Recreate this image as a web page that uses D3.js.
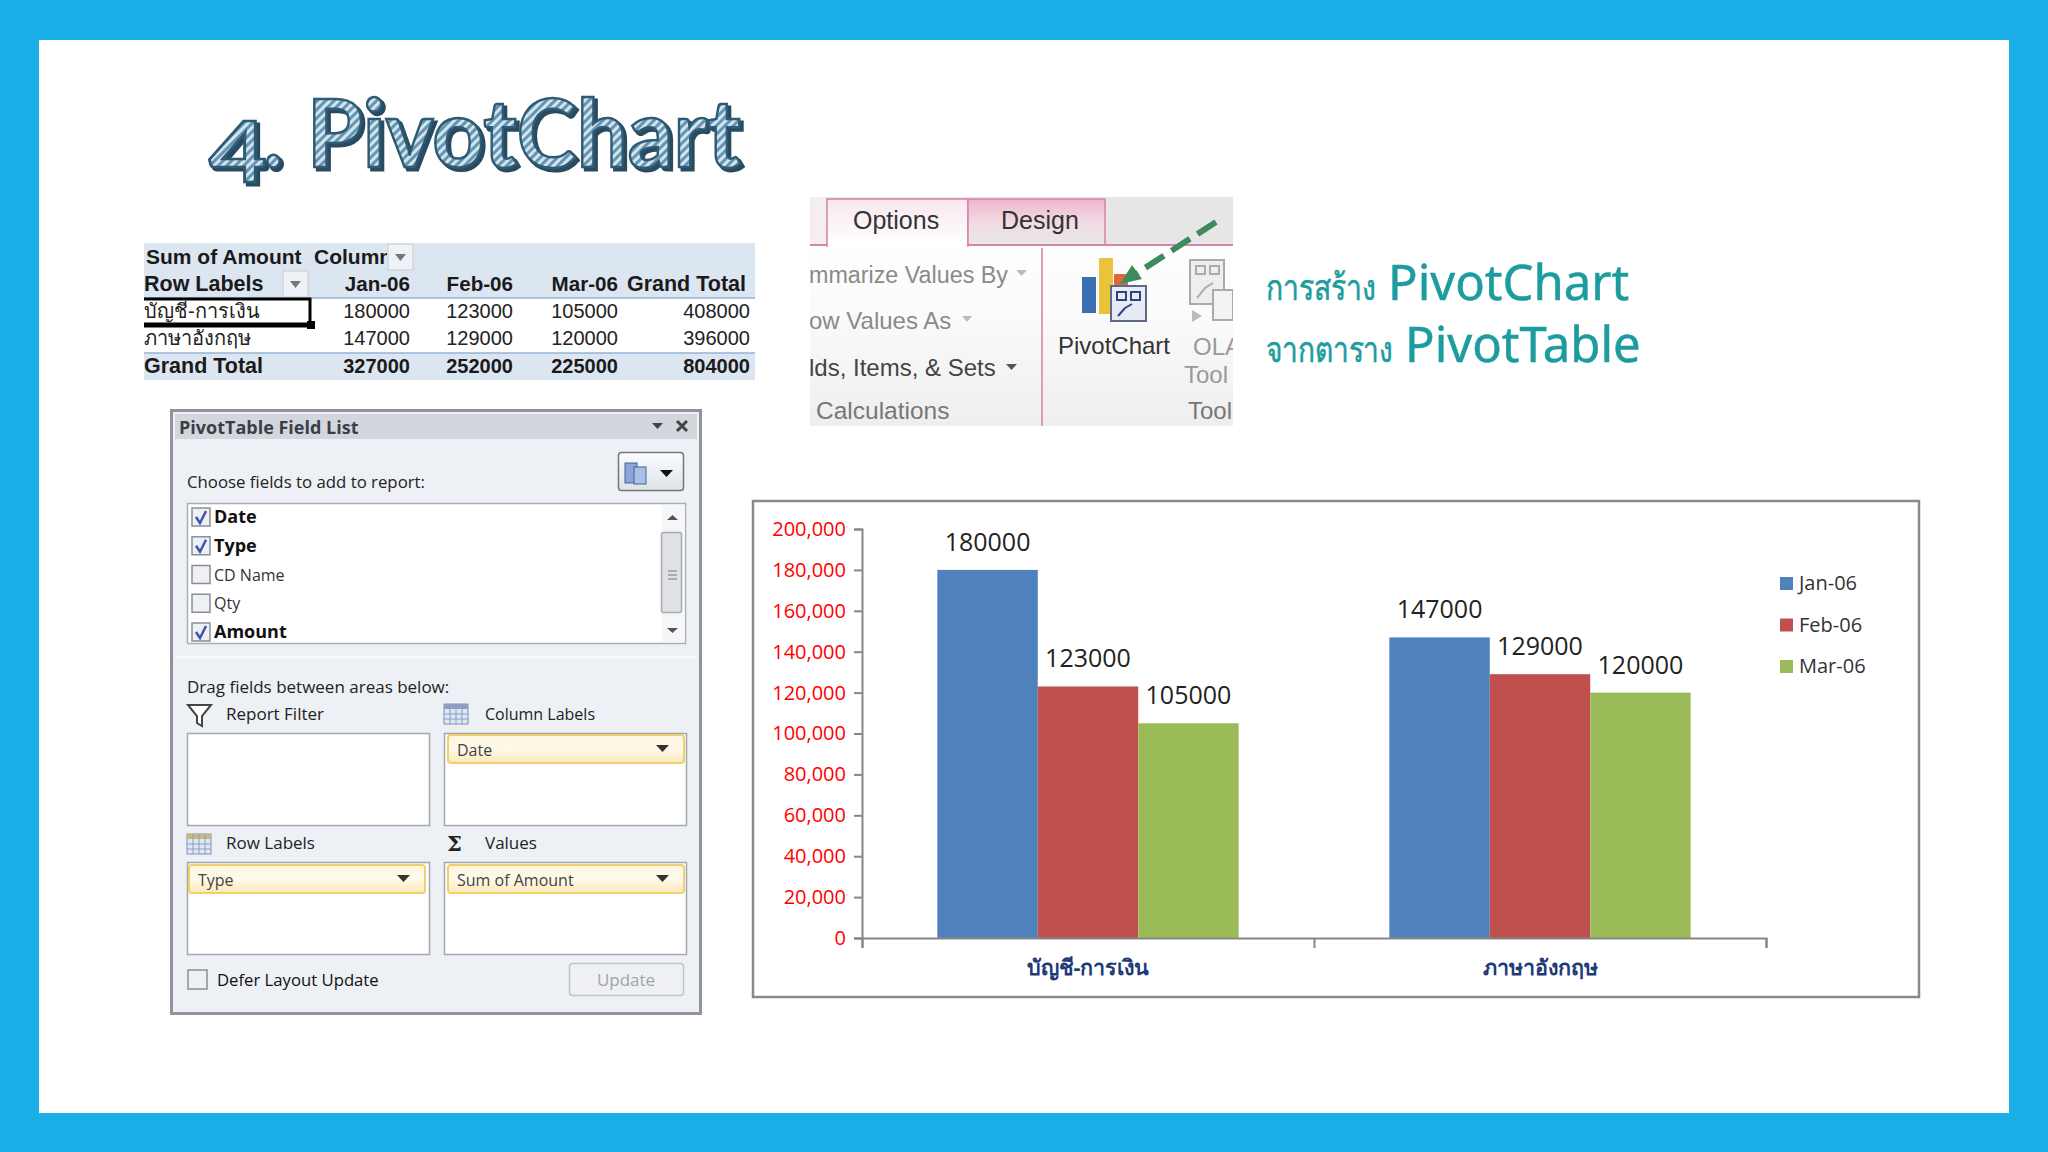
<!DOCTYPE html>
<html>
<head>
<meta charset="utf-8">
<script src="https://cdn.jsdelivr.net/npm/d3@7"></script>
<style>
  html, body { margin: 0; padding: 0; background: #1aafe6; }
  svg { display: block; }
  text { font-family: "Open Sans", sans-serif; }
</style>
</head>
<body>
<svg id="page" width="2048" height="1152"></svg>
<script>
// chart values
const categories = ['บัญชี-การเงิน', 'ภาษาอังกฤษ'];
const months = ['Jan-06', 'Feb-06', 'Mar-06'];
const jan06 = [180000, 147000];
const feb06 = [123000, 129000];
const mar06 = [105000, 120000];
const yTicks = [0, 20000, 40000, 60000, 80000, 100000, 120000, 140000, 160000, 180000, 200000];
const barColors = ['#4f81bd', '#c0504d', '#9bbb59'];

// pivot table values
const grandTotalRow = [327000, 252000, 225000];
const rowTotals = [408000, 396000];
const overallTotal = 804000;

// field list labels
const fieldNames = ['Date', 'Type', 'CD Name', 'Qty', 'Amount'];
const fieldChecked = [true, true, false, false, true];

const svg = d3.select('#page');

const txt = (g, x, y, str, o = {}) => g.append('text')
  .attr('x', x).attr('y', y)
  .attr('text-anchor', o.anchor || 'start')
  .attr('textLength', o.len || null)
  .attr('lengthAdjust', o.len ? 'spacingAndGlyphs' : null)
  .style('font-family', o.font || null)
  .style('font-size', (o.size || 18) + 'px')
  .style('font-weight', o.weight || 'normal')
  .style('fill', o.fill || '#222')
  .text(str);

const box = (g, x, y, w, h, fill, stroke, sw = 1, r = 0) => g.append('rect')
  .attr('x', x).attr('y', y).attr('width', w).attr('height', h)
  .attr('rx', r).attr('fill', fill)
  .attr('stroke', stroke || 'none').attr('stroke-width', sw);

// slide background
box(svg, 39, 40, 1970, 1073, '#fff');

const defs = svg.append('defs');

const hatch = defs.append('pattern').attr('id', 'hatch')
  .attr('patternUnits', 'userSpaceOnUse')
  .attr('width', 6).attr('height', 6)
  .attr('patternTransform', 'rotate(45)');
hatch.append('rect').attr('width', 6).attr('height', 6).attr('fill', '#d3e4ee');
hatch.append('rect').attr('width', 3).attr('height', 6).attr('fill', '#6496b2');

const addGrad = (id, stops) => {
  const gr = defs.append('linearGradient').attr('id', id)
    .attr('x1', 0).attr('y1', 0).attr('x2', 0).attr('y2', 1);
  stops.forEach((c, i) => gr.append('stop')
    .attr('offset', i / (stops.length - 1)).attr('stop-color', c));
};
addGrad('pill', ['#fdf6df', '#fff9ea', '#fbe9b8']);
addGrad('ribbon', ['#ffffff', '#fbfbfb', '#eeeeee']);
addGrad('tabOn', ['#f8e6ef', '#ffffff']);
addGrad('tabPink', ['#eeb4cc', '#f1dbe4', '#e8e8e8']);
addGrad('btn', ['#fbfcfd', '#dfe3e9']);

defs.append('clipPath').attr('id', 'clipRibbon').append('rect')
  .attr('x', 810).attr('y', 197).attr('width', 423).attr('height', 229);
defs.append('clipPath').attr('id', 'clipColumn').append('rect')
  .attr('x', 144).attr('y', 243).attr('width', 243).attr('height', 30);

// title: the 4 hangs below the baseline like an old style figure
const titleStyle = { font: 'Lato', size: 94, weight: 'bold' };
const titleParts = [
  { s: '4', x: 209, y: 182, size: 84, len: 58 },
  { s: '.', x: 264, y: 167, size: 84, len: 19 },
  { s: 'PivotChart', x: 307, y: 167, size: 94, len: 434 }
];
titleParts.forEach(p => {
  txt(svg, p.x + 3, p.y + 3, p.s, { ...titleStyle, size: p.size, len: p.len, fill: '#2a4a60' })
    .attr('stroke', '#2a4a60').attr('stroke-width', 3);
  txt(svg, p.x, p.y, p.s, { ...titleStyle, size: p.size, len: p.len, fill: 'url(#hatch)' })
    .attr('stroke', '#2f5a74').attr('stroke-width', 2.5);
});

// pivot table
const tbl = svg.append('g').style('font-family', null);
const tf = { font: '"Liberation Sans"', size: 20 };
const tb = { ...tf, weight: 'bold', fill: '#1a1a1a' };
const th = { ...tb, size: 21.5 };
const rowY = [264, 291, 318, 345, 373];
const colRight = [410, 513, 618, 750];

box(tbl, 144, 243, 611, 55, '#dce6f1');
box(tbl, 144, 353, 611, 27, '#dce6f1');
tbl.append('line').attr('x1', 144).attr('x2', 755).attr('y1', 298).attr('y2', 298).attr('stroke', '#95b3d7').attr('stroke-width', 1.5);
tbl.append('line').attr('x1', 144).attr('x2', 755).attr('y1', 353).attr('y2', 353).attr('stroke', '#95b3d7').attr('stroke-width', 1.5);

txt(tbl, 146, rowY[0], 'Sum of Amount', { ...th, size: 21 });
txt(tbl, 314, rowY[0], 'Column', { ...th, size: 21 }).attr('clip-path', 'url(#clipColumn)');
txt(tbl, 144, rowY[1], 'Row Labels', th);
months.concat(['Grand Total']).forEach((m, i) =>
  txt(tbl, i === 3 ? 746 : colRight[i], rowY[1], m, { ...th, size: i === 3 ? 21.5 : 20.6, anchor: 'end' }));

categories.forEach((c, r) => {
  txt(tbl, 144, rowY[2 + r], c, { ...tf, fill: '#222' });
  [jan06[r], feb06[r], mar06[r], rowTotals[r]].forEach((v, i) =>
    txt(tbl, colRight[i], rowY[2 + r], v, { ...tf, anchor: 'end', fill: '#222' }));
});
txt(tbl, 144, rowY[4], 'Grand Total', th);
grandTotalRow.concat([overallTotal]).forEach((v, i) =>
  txt(tbl, colRight[i], rowY[4], v, { ...tb, anchor: 'end' }));

// filter buttons on the table
const filterBtn = (x, y) => {
  box(tbl, x, y, 25, 26, '#eef1f6', '#c8ccd2');
  tbl.append('path').attr('d', `M${x + 7},${y + 10}h11l-5.5,7z`).attr('fill', '#777');
};
filterBtn(388, 244);
filterBtn(283, 271);

// selected cell
tbl.append('path').attr('d', 'M144,299H310V325H144').attr('fill', 'none').attr('stroke', '#000').attr('stroke-width', 3);
tbl.append('path').attr('d', 'M144,325H310').attr('stroke', '#000').attr('stroke-width', 5);
box(tbl, 307, 321, 8, 8, '#000');

// field list panel
const fl = svg.append('g');
box(fl, 171.5, 410.5, 529, 603, '#edf0f5', '#8f9499', 3);
box(fl, 175, 414, 522, 25, '#d3d7dd');
txt(fl, 179, 434, 'PivotTable Field List', { size: 18, weight: 'bold', fill: '#3a3f47' });
fl.append('path').attr('d', 'M652,423h11l-5.5,6z').attr('fill', '#444');
fl.append('path').attr('d', 'M677,421l10,10M687,421l-10,10').attr('stroke', '#444').attr('stroke-width', 3);

txt(fl, 187, 488, 'Choose fields to add to report:', { size: 16.8 });
box(fl, 618.5, 452.5, 65, 38, 'url(#btn)', '#777', 1.5, 3);
box(fl, 625, 463, 12, 20, '#8aa7d6', '#44619a');
box(fl, 634, 467, 12, 17, '#a9c1e6', '#44619a');
fl.append('path').attr('d', 'M660,470h13l-6.5,7z').attr('fill', '#111');

box(fl, 187.5, 503.5, 498, 140, '#fff', '#abadb3', 1.5);
const rowScale = d3.scalePoint().domain(fieldNames).range([517, 632]);
fieldNames.forEach((f, i) => {
  const y = rowScale(f);
  box(fl, 192, y - 9, 18, 18, '#eef0f3', '#8a8f96', 1.5);
  if (fieldChecked[i]) {
    fl.append('path').attr('d', `M196,${y}l4,6l6,-12`).attr('fill', 'none').attr('stroke', '#3f56b0').attr('stroke-width', 2.5);
  }
  txt(fl, 214, y + 6, f, { size: fieldChecked[i] ? 18 : 16, weight: fieldChecked[i] ? 'bold' : 'normal', fill: fieldChecked[i] ? '#111' : '#333' });
});
// scroll bar
box(fl, 662, 505, 23, 137, '#f5f6f8');
box(fl, 661.5, 532.5, 20, 80, '#dfe1e4', '#a8acb2', 1.5, 2);
fl.append('path').attr('d', 'M668,571h9M668,575h9M668,579h9').attr('stroke', '#777');
fl.append('path').attr('d', 'M667,520h11l-5.5,-5z M667,628h11l-5.5,5z').attr('fill', '#555');

box(fl, 175, 656, 522, 3, '#f8f9fb');
txt(fl, 187, 693, 'Drag fields between areas below:', { size: 17 });

// the four drop areas
const leftX = 187, rightX = 444, areaW = 242;
const areaRowTop = [733, 862];
[[leftX, 0], [rightX, 0], [leftX, 1], [rightX, 1]].forEach(([x, r]) =>
  box(fl, x + 0.5, areaRowTop[r] + 0.5, areaW, 92, '#fff', '#a4a8ae', 1.5));

const pill = (x, y, label) => {
  box(fl, x, y, 236, 28, 'url(#pill)', '#f0cf6c', 2, 3);
  txt(fl, x + 9, y + 21, label, { size: 16, fill: '#444' });
  fl.append('path').attr('d', `M${x + 208},${y + 10}h13l-6.5,7z`).attr('fill', '#333');
};
pill(448, 735, 'Date');
pill(189, 865, 'Type');
pill(448, 865, 'Sum of Amount');

// small header glyphs of the drop areas
const grid = (x, y, colorA) => {
  box(fl, x, y, 24, 20, '#dfe6f4', '#7f8fb0');
  box(fl, x, y, 24, 5, colorA);
  fl.append('path').attr('d', `M${x + 6},${y}v20M${x + 12},${y}v20M${x + 18},${y}v20M${x},${y + 10}h24M${x},${y + 15}h24`)
    .attr('stroke', '#8d9dc4').attr('stroke-width', 1);
};
fl.append('path').attr('d', 'M188,705h23l-9,11v10l-5,-3v-7z').attr('fill', '#fff').attr('stroke', '#444').attr('stroke-width', 2);
grid(444, 704, '#8d9dc4');
grid(187, 834, '#c9b878');
txt(fl, 447, 851, 'Σ', { size: 21, weight: 'bold', font: '"DejaVu Serif"', fill: '#222' });

const headY = [720, 849];
txt(fl, 226, headY[0], 'Report Filter', { size: 17 });
txt(fl, 485, headY[0], 'Column Labels', { size: 16 });
txt(fl, 226, headY[1], 'Row Labels', { size: 17 });
txt(fl, 485, headY[1], 'Values', { size: 17 });

box(fl, 188, 970, 19, 19, '#eef0f3', '#8a8f96', 1.5);
txt(fl, 217, 986, 'Defer Layout Update', { size: 16.7, fill: '#111' });
box(fl, 569.5, 963.5, 114, 32, '#eef0f4', '#bfc3c9', 1.5, 3);
txt(fl, 626, 986, 'Update', { size: 17, anchor: 'middle', fill: '#a0a4aa' });

// ribbon picture
const rb = svg.append('g').attr('clip-path', 'url(#clipRibbon)');
box(rb, 810, 197, 423, 229, 'url(#ribbon)');
box(rb, 810, 197, 423, 48, '#e6e6e6');
box(rb, 810, 197, 16, 48, '#f4eef1');
box(rb, 827, 199, 141, 47, 'url(#tabOn)', '#d583a6', 1.5);
box(rb, 968, 199, 137, 46, 'url(#tabPink)', '#d583a6', 1.5);
rb.append('path').attr('d', 'M810,245H827M968,245H1233').attr('stroke', '#d583a6').attr('stroke-width', 2);
box(rb, 828, 240, 139, 8, '#ffffff');
rb.append('line').attr('x1', 1042).attr('x2', 1042).attr('y1', 248).attr('y2', 426).attr('stroke', '#dc9fba').attr('stroke-width', 2);

const rs = { font: '"Liberation Sans"', size: 24 };
txt(rb, 853, 229, 'Options', { ...rs, size: 25, fill: '#333' });
txt(rb, 1001, 229, 'Design', { ...rs, size: 25, fill: '#333' });
txt(rb, 809, 283, 'mmarize Values By', { ...rs, size: 23.3, fill: '#8a8a8a' });
txt(rb, 809, 329, 'ow Values As', { ...rs, fill: '#8a8a8a' });
txt(rb, 809, 376, 'lds, Items, & Sets', { ...rs, fill: '#444' });
txt(rb, 816, 419, 'Calculations', { ...rs, size: 24.5, fill: '#777' });
txt(rb, 1114, 354, 'PivotChart', { ...rs, anchor: 'middle', fill: '#333' });
txt(rb, 1193, 355, 'OLA', { ...rs, fill: '#999' });
txt(rb, 1184, 383, 'Tool', { ...rs, fill: '#999' });
txt(rb, 1188, 419, 'Tool', { ...rs, fill: '#777' });
rb.append('path').attr('d', 'M1016,270h11l-5.5,6z M962,316h10l-5,6z').attr('fill', '#bbb');
rb.append('path').attr('d', 'M1006,364h11l-5.5,6z').attr('fill', '#555');

// PivotChart icon
box(rb, 1082, 277, 14, 36, '#3a6fb5');
box(rb, 1099, 258, 14, 56, '#e9c43a');
box(rb, 1114, 274, 14, 30, '#e0673c');
box(rb, 1111, 286, 35, 35, '#e7ebf5', '#5d6a85', 2);
rb.append('path').attr('d', 'M1117,292h9v8h-9z M1131,292h9v8h-9z M1118,316l7,-8m0,0l7,-4').attr('fill', 'none').attr('stroke', '#32457a').attr('stroke-width', 2);
// OLAP tools icon, clipped by the picture edge
box(rb, 1190, 260, 34, 44, '#eeeeee', '#aaaaaa', 2);
rb.append('path').attr('d', 'M1196,266h9v8h-9z M1210,266h9v8h-9z M1197,298l8,-10l8,-5').attr('fill', 'none').attr('stroke', '#aaaaaa').attr('stroke-width', 2);
box(rb, 1213, 290, 20, 30, '#f3f3f3', '#aaaaaa', 2);
rb.append('path').attr('d', 'M1192,310l10,6l-10,6z').attr('fill', '#bbbbbb');

// dashed arrow
rb.append('line').attr('x1', 1216).attr('y1', 222).attr('x2', 1131).attr('y2', 277)
  .attr('stroke', '#3d8a5c').attr('stroke-width', 6).attr('stroke-dasharray', '22 9');
rb.append('path').attr('d', 'M1120,284l22,-5l-10,-14z').attr('fill', '#3d8a5c');

// right hand captions
const tealHead = { size: 49, fill: '#1d9c9f', font: '"Noto Sans"' };
const tealThai = { size: 36, fill: '#1d9c9f', font: '"Noto Sans"' };
txt(svg, 1266, 300, 'การสร้าง', { ...tealThai, len: 110 }).attr('stroke', '#1d9c9f').attr('stroke-width', 0.6);
txt(svg, 1388, 300, 'PivotChart', tealHead).attr('stroke', '#1d9c9f').attr('stroke-width', 0.5);
txt(svg, 1266, 362, 'จากตาราง', { ...tealThai, len: 127 }).attr('stroke', '#1d9c9f').attr('stroke-width', 0.6);
txt(svg, 1405, 362, 'PivotTable', tealHead).attr('stroke', '#1d9c9f').attr('stroke-width', 0.5);

// the chart
const frame = { left: 753, top: 501, right: 1919, bottom: 997 };
box(svg, frame.left, frame.top, frame.right - frame.left, frame.bottom - frame.top, '#fff', '#8a8a8a', 2.5);

const margin = { left: 862, right: 1766, top: 529, bottom: 938 };
const chart = svg.append('g');

const yScale = d3.scaleLinear().domain([0, 200000]).range([margin.bottom, margin.top]);
const xScale = d3.scaleBand().domain(categories)
  .range([margin.left, margin.right]).paddingInner(1 / 3).paddingOuter(1 / 6);
const xInner = d3.scaleBand().domain(months).range([0, xScale.bandwidth()]);

const series = [jan06, feb06, mar06];
const barData = categories.flatMap((c, ci) => months.map((m, mi) => ({ c, m, mi, v: series[mi][ci] })));

chart.selectAll('rect.bar').data(barData).enter().append('rect')
  .attr('class', 'bar')
  .attr('x', d => xScale(d.c) + xInner(d.m))
  .attr('y', d => yScale(d.v))
  .attr('width', xInner.bandwidth())
  .attr('height', d => yScale(0) - yScale(d.v))
  .attr('fill', d => barColors[d.mi]);

chart.selectAll('text.val').data(barData).enter().append('text')
  .attr('class', 'val')
  .attr('x', d => xScale(d.c) + xInner(d.m) + xInner.bandwidth() / 2)
  .attr('y', d => yScale(d.v) - 19)
  .attr('text-anchor', 'middle')
  .style('font-size', '25px')
  .style('fill', '#222')
  .text(d => d.v);

const yAxis = d3.axisLeft(yScale).tickValues(yTicks).tickFormat(d3.format(',')).tickSize(8).tickPadding(8);
const yG = chart.append('g').attr('transform', `translate(${margin.left},0)`).call(yAxis);
yG.selectAll('text').style('font-size', '20px').style('fill', '#ff0000');

// category axis: ticks sit between the groups
const edgeScale = d3.scaleLinear().domain([0, categories.length]).range([margin.left, margin.right]);
const xTicks = d3.axisBottom(edgeScale).ticks(categories.length).tickSize(10).tickSizeOuter(10).tickFormat('');
const xG = chart.append('g').attr('transform', `translate(0,${margin.bottom})`).call(xTicks);
const xLabels = d3.axisBottom(xScale).tickSize(0).tickPadding(22);
const xL = chart.append('g').attr('transform', `translate(0,${margin.bottom})`).call(xLabels);
xL.select('.domain').remove();
xL.selectAll('text').style('font-size', '21.5px').style('font-weight', 'bold').style('fill', '#1f3a7a');

[yG, xG].forEach(g => {
  g.selectAll('.domain, line').attr('stroke', '#868686').attr('stroke-width', 2);
});

// legend
const legendY = d3.scalePoint().domain(months).range([583, 666]);
const legend = chart.selectAll('g.lg').data(months).enter().append('g').attr('class', 'lg')
  .attr('transform', m => `translate(1780,${legendY(m)})`);
legend.append('rect').attr('x', 0).attr('y', -6).attr('width', 13).attr('height', 13)
  .attr('fill', (m, i) => barColors[i]);
legend.append('text').attr('x', 19).attr('y', 7).style('font-size', '20px').style('fill', '#333').text(m => m);
</script>
</body>
</html>
